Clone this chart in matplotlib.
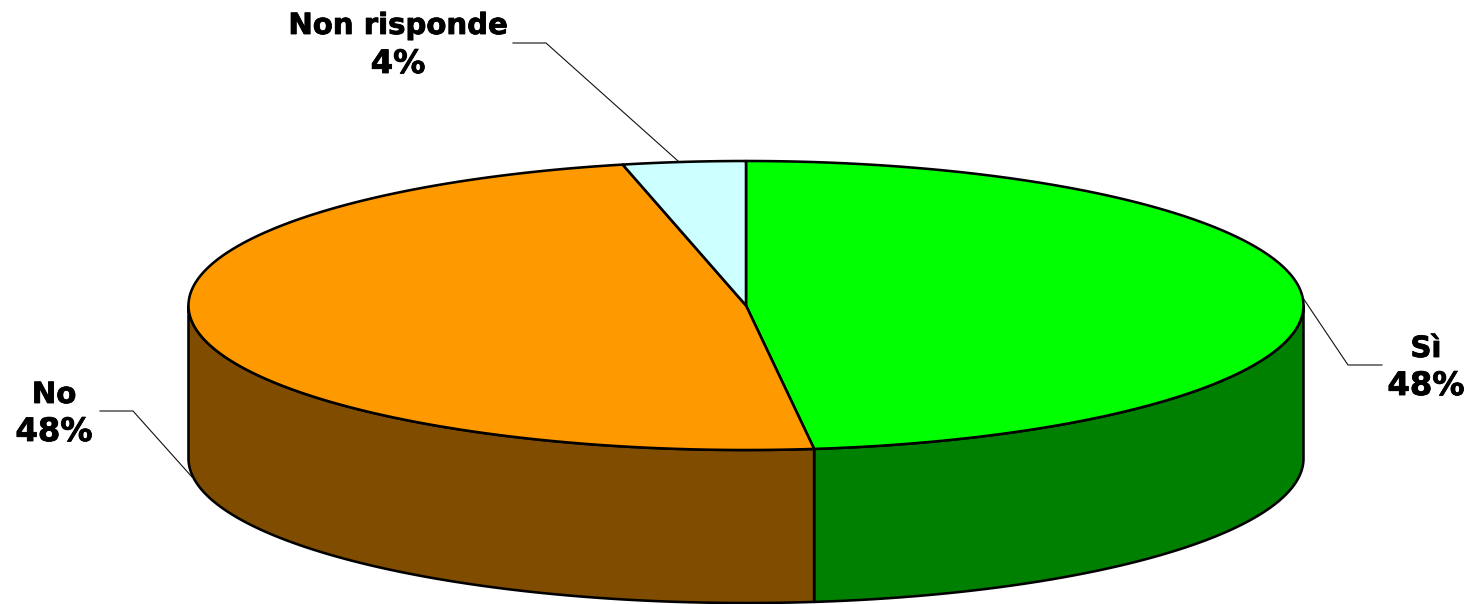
import numpy as np
import matplotlib
matplotlib.use("Agg")
import matplotlib.pyplot as plt
import matplotlib.patheffects as pe
from matplotlib.patches import Polygon

categories = ["Sì", "No", "Non risponde"]
values = [48.05, 48.40, 3.55]
percent_labels = ["48%", "48%", "4%"]
top_colors = ["#00FF00", "#FF9900", "#CCFFFF"]
side_colors = ["#008000", "#804C00", "#668080"]

CX, CY, RX, RY, DEPTH = 746, 305.5, 557.5, 144.5, 153

fig = plt.figure(figsize=(14.73, 6.04), dpi=100, facecolor="white")
ax = fig.add_axes([0, 0, 1, 1])
ax.set_xlim(0, 1473)
ax.set_ylim(604, 0)
ax.axis("off")


def rim(a0, a1, n=300):
    t = np.radians(np.linspace(a0, a1, n))
    return CX + RX * np.sin(t), CY - RY * np.cos(t)


fractions = np.array(values) / sum(values) * 360
edges = np.concatenate([[0], np.cumsum(fractions)])

# side walls: only the front half of the rim is visible
for i in range(len(values)):
    a0, a1 = max(edges[i], 90), min(edges[i + 1], 270)
    if a1 <= a0:
        continue
    x, y = rim(a0, a1)
    pts = np.column_stack([np.r_[x, x[::-1]], np.r_[y, y[::-1] + DEPTH]])
    ax.add_patch(Polygon(pts, closed=True, fc=side_colors[i], ec="black", lw=1.85, joinstyle="round", zorder=2))

# top slices
for i in range(len(values)):
    x, y = rim(edges[i], edges[i + 1])
    pts = np.column_stack([np.r_[CX, x], np.r_[CY, y]])
    ax.add_patch(Polygon(pts, closed=True, fc=top_colors[i], ec="black", lw=1.85, joinstyle="round", zorder=3))

# leader lines
leaders = [
    [(1303, 298), (1348, 365), (1382, 365)],
    [(192, 477), (133, 411), (100, 411)],
    [(678, 161), (546, 43), (513, 43)],
]
for pts in leaders:
    xs, ys = zip(*pts)
    ax.plot(xs, ys, color="#111111", lw=0.8, zorder=4, solid_joinstyle="miter")

# labels: (x centre, category baseline, percent baseline)
heavier = [pe.withStroke(linewidth=0.6, foreground="black")]
label_pos = [(1426, 357, 395), (54, 403, 441), (398, 34, 73)]
for (lx, y1, y2), c, p in zip(label_pos, categories, percent_labels):
    ax.text(lx, y1, c, ha="center", va="baseline", fontsize=21,
            fontweight="bold", family="DejaVu Sans", color="black",
            zorder=5, path_effects=heavier)
    ax.text(lx, y2, p, ha="center", va="baseline", fontsize=23.2,
            fontweight="bold", family="DejaVu Sans", color="black",
            zorder=5, path_effects=heavier)

fig.savefig("out.png", dpi=100, facecolor="white")
